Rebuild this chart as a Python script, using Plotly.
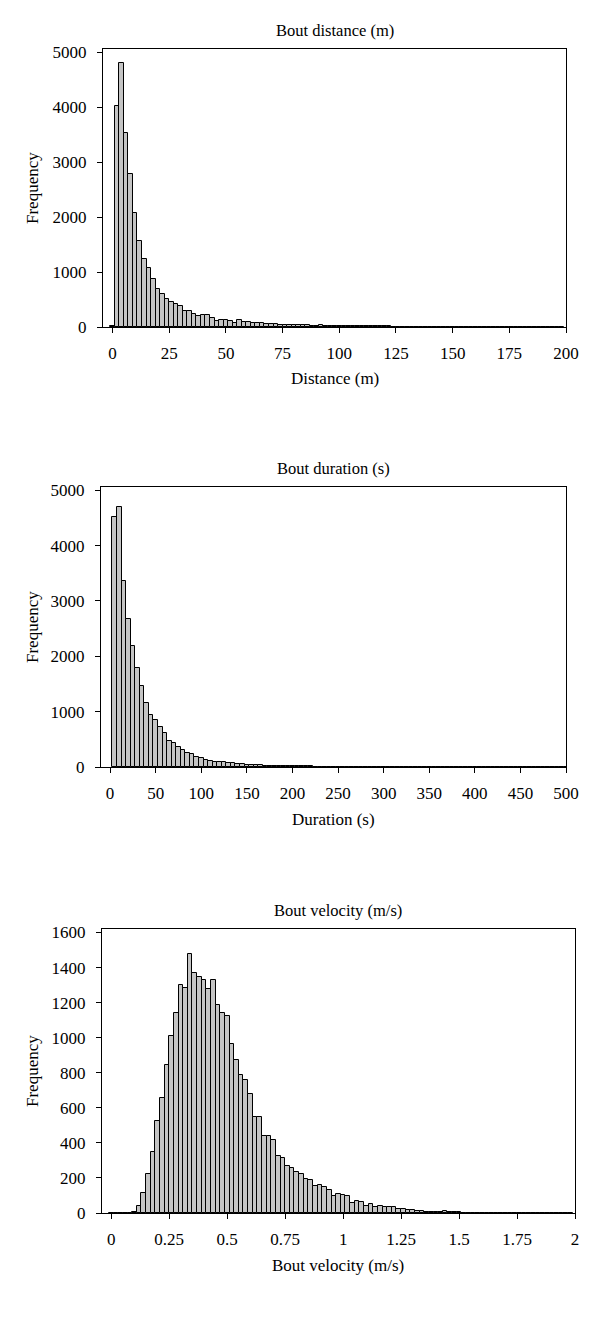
import plotly.graph_objects as go
from plotly.subplots import make_subplots

# bout distance, 2 m bins starting at 0
distance_freq = [
    20, 4030, 4800, 3530, 2790, 2070, 1560, 1240, 1070, 875,
    690, 604, 506, 451, 415, 384, 299, 293, 238, 207,
    213, 226, 159, 110, 134, 122, 110, 79, 122, 91,
    85, 79, 73, 67, 61, 49, 49, 43, 37, 43,
    43, 30, 30, 28, 26, 24, 45, 22, 20, 18,
    18, 16, 15, 15, 14, 13, 12, 12, 11, 10,
    10, 15, 9, 8, 8, 7, 7, 6, 6, 5,
    5, 5, 4, 4, 4, 3, 3, 3, 2, 2,
    2, 2, 1, 1, 1, 1, 0, 1, 0, 0,
    1, 0, 0, 0, 0, 0, 0, 0, 0, 0,
]
distance_bins = [2 * i for i in range(len(distance_freq))]

# bout duration, 5 s bins starting at 5
duration_freq = [
    4520, 4700, 3360, 2680, 2190, 1790, 1460, 1150, 946, 846,
    723, 608, 461, 434, 355, 313, 259, 244, 187, 163,
    127, 108, 96, 90, 84, 72, 66, 60, 48, 42,
    36, 30, 30, 24, 22, 20, 18, 16, 15, 14,
    12, 11, 10, 10, 9, 8, 8, 7, 7, 6,
    6, 5, 5, 5, 4, 4, 4, 3, 3, 3,
    3, 2, 3, 2, 2, 3, 2, 2, 2, 2,
    2, 2, 1, 2, 1, 1, 2, 1, 1, 1,
    1, 1, 0, 1, 0, 1, 0, 0, 1, 0,
    0, 0, 0, 1, 0, 0, 0, 0, 0, 0,
]
duration_bins = [5 * (i + 1) for i in range(len(duration_freq))]

# bout velocity, 0.02 m/s bins starting at 0
velocity_freq = [
    0, 0, 0, 0, 0, 8, 38, 114, 221, 347,
    522, 657, 846, 1010, 1143, 1299, 1284, 1476, 1371, 1347,
    1331, 1280, 1328, 1187, 1139, 1122, 962, 874, 785, 756,
    678, 550, 547, 442, 438, 417, 328, 312, 270, 259,
    236, 223, 194, 187, 156, 161, 150, 133, 99, 110,
    105, 97, 59, 70, 63, 40, 50, 34, 38, 36,
    34, 36, 23, 21, 19, 17, 11, 13, 8, 6,
    6, 8, 13, 6, 4, 3, 2, 2, 2, 1,
    1, 1, 0, 1, 1, 1, 0, 0, 0, 0,
    0, 0, 0, 0, 0, 0, 0, 0, 0, 0,
]
velocity_bins = [round(0.02 * i, 2) for i in range(len(velocity_freq))]

# the page body has an 8 px margin, so the figure is laid out 8 px up/left
OFF = 8
W, H = 600 - OFF, 1327 - OFF
FONT = "Liberation Serif"


def px(x):
    return (x - OFF) / W


def py(y):
    return 1 - (y - OFF) / H


fig = make_subplots(rows=3, cols=1)

panels = [
    (distance_bins, distance_freq, 2, "Bout distance (m)", "Distance (m)",
     (103, 566, 49, 327), [-4.2, 200], list(range(0, 201, 25)), [str(v) for v in range(0, 201, 25)],
     [0, 5060], list(range(0, 5001, 1000))),
    (duration_bins, duration_freq, 5, "Bout duration (s)", "Duration (s)",
     (101, 566, 487, 767), [-10, 500], list(range(0, 501, 50)), [str(v) for v in range(0, 501, 50)],
     [0, 5060], list(range(0, 5001, 1000))),
    (velocity_bins, velocity_freq, 0.02, "Bout velocity (m/s)", "Bout velocity (m/s)",
     (102, 575, 929, 1213), [-0.04, 2.0], [0, 0.25, 0.5, 0.75, 1, 1.25, 1.5, 1.75, 2],
     ["0", "0.25", "0.5", "0.75", "1", "1.25", "1.5", "1.75", "2"],
     [0, 1620], list(range(0, 1601, 200))),
]

for i, (xs, ys, w, title, xtitle, box, xr, xt, xl, yr, yt) in enumerate(panels, start=1):
    x0, x1, y0, y1 = box
    fig.add_trace(go.Bar(x=xs, y=ys, width=w,
                         marker=dict(color="#c4c4c4", line=dict(color="black", width=1)),
                         showlegend=False), row=i, col=1)
    fig.update_xaxes(domain=[px(x0), px(x1)], range=xr, tickvals=xt, ticktext=xl,
                     showline=True, mirror=True, linecolor="black", linewidth=1.2,
                     ticks="outside", ticklen=5, tickcolor="black", showgrid=False,
                     zeroline=False, ticklabelstandoff=5, automargin=False,
                     tickfont=dict(family=FONT, size=17, color="black"), row=i, col=1)
    fig.update_yaxes(domain=[py(y1), py(y0)], range=yr, tickvals=yt,
                     showline=True, mirror=True, linecolor="black", linewidth=1.2,
                     ticks="outside", ticklen=5, tickcolor="black", showgrid=False,
                     zeroline=False, ticklabelstandoff=7, automargin=False,
                     tickfont=dict(family=FONT, size=17, color="black"), row=i, col=1)
    cx = (x0 + x1) / 2
    fig.add_annotation(text=title, x=px(cx), y=py(y0 - 19), xref="paper", yref="paper",
                       xanchor="center", yanchor="middle", showarrow=False,
                       font=dict(family=FONT, size=16.5, color="black"))
    fig.add_annotation(text=xtitle, x=px(cx), y=py(y1 + 52), xref="paper", yref="paper",
                       xanchor="center", yanchor="middle", showarrow=False,
                       font=dict(family=FONT, size=17, color="black"))
    fig.add_annotation(text="Frequency", x=px(32), y=py((y0 + y1) / 2),
                       xref="paper", yref="paper", textangle=-90, showarrow=False,
                       xanchor="center", yanchor="middle",
                       font=dict(family=FONT, size=17, color="black"))

fig.update_layout(width=W, height=H, margin=dict(l=0, r=0, t=0, b=0),
                  plot_bgcolor="white", paper_bgcolor="white", bargap=0)

fig.write_html("out.html")
